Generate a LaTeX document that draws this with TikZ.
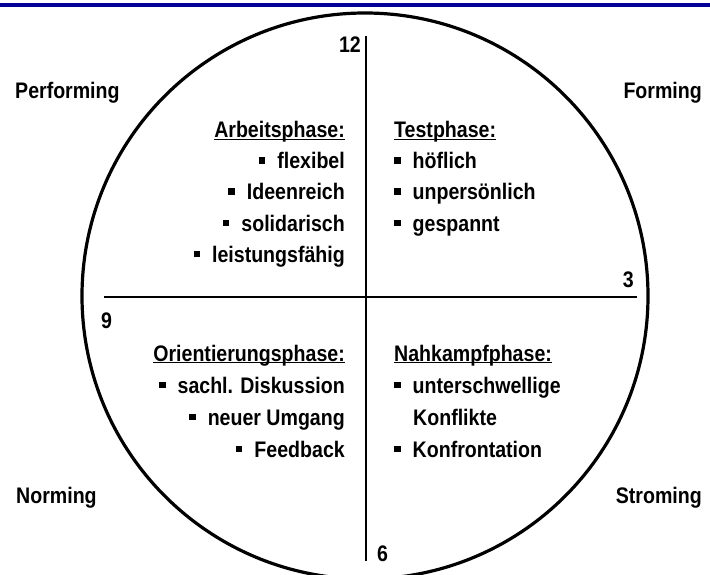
\documentclass[tikz,border=0pt]{standalone}
\usepackage{fontspec}
\setmainfont{Liberation Sans}[FakeStretch=0.87]
\definecolor{navy}{RGB}{0,0,153}
\newcommand{\sqbul}{\rule[5pt]{6.5pt}{6.5pt}\hspace{12pt}}
\newcommand{\phasehead}[1]{\underline{\smash{#1}}}

\begin{document}
\begin{tikzpicture}[x=1pt,y=-1pt,
    txt/.style={inner sep=0pt,font=\fontsize{22.5}{26}\selectfont\bfseries},
    axis/.style={line width=2.8pt}]
  \useasboundingbox (0,0) rectangle (710,575);
  \draw[navy,line width=3.5pt] (0,5) -- (710,5);
  % clock face
  \coordinate (c) at (365,296);
  \draw[line width=3.2pt] (c) circle [radius=283pt];
  \coordinate (top) at (366,36);
  \coordinate (bot) at (366,561);
  \coordinate (lft) at (104,297);
  \coordinate (rgt) at (637,297);
  \draw[axis] (top) -- (bot);
  \draw[axis] (lft) -- (rgt);
  \node[txt,anchor=base east] (n12) at (361,53) {12};
  \node[txt,anchor=base east] (n3) at (634,287) {3};
  \node[txt,anchor=base west] (n9) at (101,328) {9};
  \node[txt,anchor=base west] (n6) at (377,561) {6};
  % corners
  \node[txt,anchor=base west] (perf) at (15,99) {Performing};
  \node[txt,anchor=base east] (form) at (702,99) {Forming};
  \node[txt,anchor=base west] (norm) at (16,503) {Norming};
  \node[txt,anchor=base east] (strom) at (702,503) {Stroming};
  % quadrants
  \node[txt,anchor=base east] (arb) at (345,138) {\phasehead{Arbeitsphase:}};
  \foreach \w [count=\i] in {flexibel,Ideenreich,solidarisch,leistungsfähig}
    \node[txt,anchor=base east] (arb\i) at (345,138+31*\i) {\sqbul\w};
  \node[txt,anchor=base west] (test) at (394,138) {\phasehead{Testphase:}};
  \foreach \w [count=\i] in {höflich,unpersönlich,gespannt}
    \node[txt,anchor=base west] (test\i) at (394,138+31*\i) {\sqbul\w};
  \node[txt,anchor=base east] (ori) at (345,361) {\phasehead{Orientierungsphase:}};
  \foreach \w [count=\i] in {sachl. Diskussion,neuer Umgang,Feedback}
    \node[txt,anchor=base east] (ori\i) at (345,361+32*\i) {\sqbul\w};
  \node[txt,anchor=base west] (nah) at (394,361) {\phasehead{Nahkampfphase:}};
  \node[txt,anchor=base west] (nah1) at (394,393) {\sqbul unterschwellige};
  \node[txt,anchor=base west] (nah2) at (413,425) {Konflikte};
  \node[txt,anchor=base west] (nah3) at (394,457) {\sqbul Konfrontation};
\end{tikzpicture}
\end{document}
